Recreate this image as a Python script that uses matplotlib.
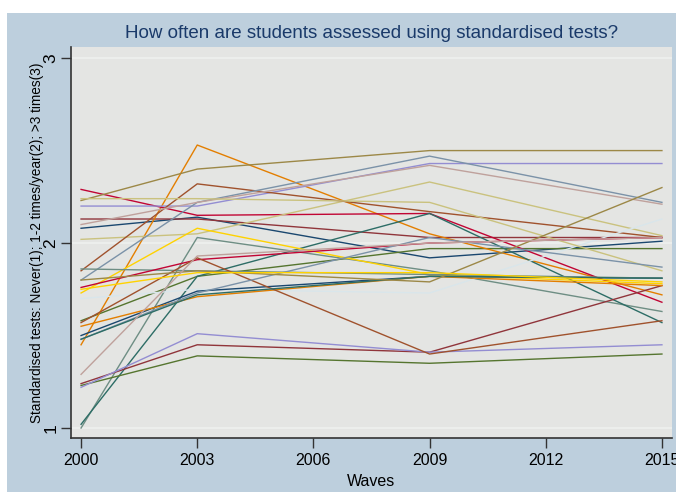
import matplotlib
matplotlib.use("Agg")
import matplotlib.pyplot as plt

plt.rcParams['font.family'] = ['Liberation Sans', 'DejaVu Sans']

waves = [2000, 2003, 2009, 2015]

# one row per country: mean score in each wave
series = [
    [2.08, 2.14, 1.92, 2.01],
    [2.13, 2.13, 2.03, 2.03],
    [1.58, 1.82, 1.97, 1.97],
    [1.45, 2.53, 2.05, 1.72],
    [1.00, 2.03, 1.85, 1.63],
    [2.29, 2.15, 2.16, 1.68],
    [2.20, 2.20, 2.43, 2.43],
    [2.02, 2.05, 2.33, 2.04],
    [1.85, 2.32, 2.17, 2.03],
    [1.80, 2.22, 2.47, 2.22],
    [1.02, 1.82, 2.16, 1.57],
    [2.23, 2.40, 2.50, 2.50],
    [2.10, 2.22, 2.42, 2.21],
    [1.73, 2.08, 1.83, 1.78],
    [1.70, 1.75, 1.73, 2.13],
    [1.50, 1.74, 1.82, 1.81],
    [1.24, 1.45, 1.41, 1.77],
    [1.23, 1.39, 1.35, 1.40],
    [1.55, 1.71, 1.82, 1.77],
    [1.86, 1.85, 1.83, 1.81],
    [1.76, 1.91, 2.00, 2.03],
    [1.22, 1.51, 1.41, 1.45],
    [2.24, 2.24, 2.22, 1.85],
    [1.57, 1.92, 1.40, 1.58],
    [1.48, 1.73, 2.03, 1.87],
    [1.48, 1.72, 1.82, 1.81],
    [1.80, 1.85, 1.79, 2.30],
    [1.29, 1.93, 2.00, 2.03],
    [1.75, 1.84, 1.84, 1.79],
]

# stata s2color line palette
palette = ['#1a476f', '#90353b', '#55752f', '#e37e00', '#6e8e84',
           '#c10534', '#938dd2', '#cac27e', '#a0522d', '#7b92a8',
           '#2d6d66', '#9c8847', '#bfa19c', '#ffd200', '#d9e6eb']

fig = plt.figure(figsize=(6.76, 4.97), dpi=100, facecolor='white')

# blue graph region behind the plot
bg = fig.add_axes([7 / 676, 5 / 497, 1 - 7 / 676, (497 - 18) / 497], zorder=-1)
bg.set_facecolor('#bdcfdd')
bg.set_xticks([])
bg.set_yticks([])
for s in bg.spines.values():
    s.set_visible(False)

ax = fig.add_axes([71 / 676, (497 - 438) / 497, 601 / 676, 391 / 497])
ax.set_facecolor('#e4e5e3')

for y in [1, 2, 3]:
    ax.axhline(y, color='#eef1ef', lw=1.2, zorder=1)

for i, vals in enumerate(series):
    ax.plot(waves, vals, color=palette[i % len(palette)], lw=1.0, zorder=2)

ax.set_xlim(1999.74, 2015.26)
ax.set_ylim(0.946, 3.06)
ax.set_xticks([2000, 2003, 2006, 2009, 2012, 2015])
ax.set_yticks([1, 2, 3])
ax.tick_params(axis='both', length=7, width=1, color='#333333')
ax.tick_params(axis='x', labelsize=11.5, pad=4)
ax.tick_params(axis='y', labelsize=12.5, labelrotation=90, pad=2)
for lab in ax.get_yticklabels():
    lab.set_va('center')

for s in ['top', 'right']:
    ax.spines[s].set_visible(False)
for s in ['left', 'bottom']:
    ax.spines[s].set_color('#333333')
    ax.spines[s].set_linewidth(1.2)

ax.set_xlabel('Waves', fontsize=11.5, labelpad=4)
ax.set_ylabel('Standardised tests: Never(1); 1-2 times/year(2); >3 times(3)',
              fontsize=9.8)
ax.yaxis.set_label_coords(-0.045, 0.5)

fig.text(372 / 676, 1 - 33 / 497,
         'How often are students assessed using standardised tests?',
         ha='center', va='center', fontsize=13.5, color='#1a3a6a')

fig.savefig('out.png', dpi=100, facecolor=fig.get_facecolor())
